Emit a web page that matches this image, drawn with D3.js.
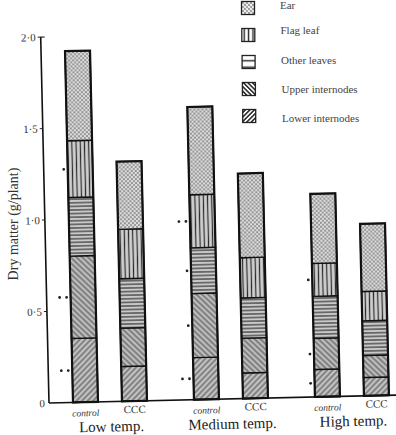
<!DOCTYPE html>
<html>
<head>
<meta charset="utf-8">
<script src="https://cdn.jsdelivr.net/npm/d3@7"></script>
<style>
  body { margin: 0; background: #fff; }
  svg { display: block; }
</style>
</head>
<body>
<script>
// stacked dry matter per plant, by plant part

// Data (g/plant)
const groups = ["Low temp.", "Medium temp.", "High temp."];
const treatments = ["control", "CCC"];
const parts = ["lower", "upper", "other", "flag", "ear"];   // bottom -> top
const partNames = ["Lower internodes", "Upper internodes", "Other leaves", "Flag leaf", "Ear"];

const lowerInternodes = [0.35, 0.19, 0.23, 0.14, 0.15, 0.10];
const upperInternodes = [0.45, 0.21, 0.35, 0.19, 0.17, 0.12];
const otherLeaves     = [0.32, 0.27, 0.25, 0.22, 0.23, 0.19];
const flagLeaf        = [0.31, 0.27, 0.29, 0.22, 0.18, 0.16];
const ear             = [0.49, 0.37, 0.48, 0.46, 0.38, 0.37];

const yTicks = [0, 0.5, 1.0, 1.5, 2.0];
const yTickLabels = ["0", "0·5", "1·0", "1·5", "2·0"];

// significance marks drawn beside the control bars: [group, part, count]
const sigMarks = [
    ["Low temp.", "flag", 1], ["Low temp.", "upper", 2], ["Low temp.", "lower", 2],
    ["Medium temp.", "flag", 2], ["Medium temp.", "other", 1],
    ["Medium temp.", "upper", 1], ["Medium temp.", "lower", 2],
    ["High temp.", "flag", 1], ["High temp.", "upper", 1], ["High temp.", "lower", 1]
];

// build rows for the stack
const rows = [];
groups.forEach((g, gi) => {
    treatments.forEach((t, ti) => {
        const i = gi * 2 + ti;
        rows.push({
            group: g, treat: t,
            lower: lowerInternodes[i], upper: upperInternodes[i],
            other: otherLeaves[i], flag: flagLeaf[i], ear: ear[i]
        });
    });
});

const width = 396;
const height = 435;
const x0 = 49;      // axis position
const yBase = 403;  // baseline

const svg = d3.select("body")
    .append("svg")
    .attr("width", width)
    .attr("height", height);

svg.append("rect").attr("width", width).attr("height", height).attr("fill", "#fff");

// ----- patterns
const defs = svg.append("defs");

function dotPattern(id, bg) {
    const p = defs.append("pattern").attr("id", id)
        .attr("patternUnits", "userSpaceOnUse").attr("width", 4).attr("height", 4);
    p.append("rect").attr("width", 4).attr("height", 4).attr("fill", bg);
    p.append("circle").attr("cx", 1).attr("cy", 1).attr("r", 0.8).attr("fill", "#3a3a3a");
    p.append("circle").attr("cx", 3).attr("cy", 3).attr("r", 0.8).attr("fill", "#4a4a4a");
}
function linePattern(id, size, angle, bg, stroke, sw) {
    const p = defs.append("pattern").attr("id", id)
        .attr("patternUnits", "userSpaceOnUse")
        .attr("width", size).attr("height", size)
        .attr("patternTransform", `rotate(${angle})`);
    p.append("rect").attr("width", size).attr("height", size).attr("fill", bg);
    p.append("line")
        .attr("x1", size / 2).attr("x2", size / 2)
        .attr("y1", 0).attr("y2", size)
        .attr("stroke", stroke).attr("stroke-width", sw);
}

dotPattern("p-ear", "#dcdcdc");
linePattern("p-flag", 4.2, 0, "#cecece", "#2a2a2a", 1.2);
linePattern("p-other", 3.6, 90, "#c9c9c9", "#2a2a2a", 1.1);
linePattern("p-upper", 4, -45, "#bdbdbd", "#454545", 1);
linePattern("p-lower", 4, 45, "#c2c2c2", "#454545", 1);

// legend versions (coarser / bolder)
dotPattern("l-ear", "#eee");
linePattern("l-flag", 4.4, 0, "#fff", "#222", 1.4);
linePattern("l-other", 6.4, 90, "#fff", "#222", 1.4);
linePattern("l-upper", 3.2, -45, "#fff", "#222", 1.5);
linePattern("l-lower", 3.2, 45, "#fff", "#222", 1.5);

// ----- scales
const xGroup = d3.scaleBand()
    .domain(groups)
    .range([49.5, 412.5]);

const xTreat = d3.scaleBand()
    .domain(treatments)
    .range([23.5, 97.5])
    .paddingInner(24 / 49);

const yScale = d3.scaleLinear()
    .domain([0, 2])
    .range([yBase, 37]);

const stack = d3.stack().keys(parts);
const series = stack(rows);

// whole plot is slightly tilted like the scan
const g = svg.append("g")
    .attr("transform", `rotate(-1.3, ${x0}, ${yBase})`);

const barX = d => xGroup(d.data.group) + xTreat(d.data.treat);

// stacked segments
series.forEach(s => {
    g.append("g")
        .selectAll("rect")
        .data(s)
        .join("rect")
        .attr("x", d => barX(d))
        .attr("y", d => yScale(d[1]))
        .attr("width", xTreat.bandwidth())
        .attr("height", d => yScale(d[0]) - yScale(d[1]))
        .attr("fill", `url(#p-${s.key})`)
        .attr("stroke", "#111")
        .attr("stroke-width", 1.4);
});

// heavy outline on each bar
g.append("g")
    .selectAll("rect")
    .data(rows)
    .join("rect")
    .attr("x", d => xGroup(d.group) + xTreat(d.treat))
    .attr("y", d => yScale(d.lower + d.upper + d.other + d.flag + d.ear))
    .attr("width", xTreat.bandwidth())
    .attr("height", d => yBase - yScale(d.lower + d.upper + d.other + d.flag + d.ear))
    .attr("fill", "none")
    .attr("stroke", "#111")
    .attr("stroke-width", 2.2);

// significance dots
sigMarks.forEach(([grp, part, n]) => {
    const row = rows.find(r => r.group === grp && r.treat === "control");
    const k = parts.indexOf(part);
    const seg = series[k].find(d => d.data === row);
    const yMid = yScale((seg[0] + seg[1]) / 2);
    const left = xGroup(grp) + xTreat("control");
    for (let i = 0; i < n; i++) {
        g.append("circle")
            .attr("cx", left - 4 - i * 7)
            .attr("cy", yMid)
            .attr("r", 1.4)
            .attr("fill", "#222");
    }
});

// axis line and baseline
g.append("line")
    .attr("x1", x0).attr("x2", x0)
    .attr("y1", yScale(0)).attr("y2", yScale(2))
    .attr("stroke", "#111").attr("stroke-width", 1.6);
g.append("line")
    .attr("x1", x0).attr("x2", 400)
    .attr("y1", yBase).attr("y2", yBase)
    .attr("stroke", "#111").attr("stroke-width", 1.6);

// ticks
const tickG = g.append("g");
tickG.selectAll("line")
    .data(yTicks.filter(v => v > 0))
    .join("line")
    .attr("x1", x0 - 3).attr("x2", x0)
    .attr("y1", d => yScale(d)).attr("y2", d => yScale(d))
    .attr("stroke", "#222").attr("stroke-width", 1);
g.append("line")
    .attr("x1", x0).attr("x2", x0 + 4)
    .attr("y1", yScale(2)).attr("y2", yScale(2))
    .attr("stroke", "#222").attr("stroke-width", 1.2);

tickG.selectAll("text")
    .data(yTicks)
    .join("text")
    .attr("x", (d, i) => i === 0 ? x0 - 4 : x0 - 5)
    .attr("y", d => yScale(d) + 4)
    .attr("text-anchor", "end")
    .attr("font-family", "Liberation Serif, serif")
    .attr("font-size", 11)
    .attr("fill", "#333")
    .text((d, i) => yTickLabels[i]);

// bar labels
g.append("g")
    .selectAll("text")
    .data(rows)
    .join("text")
    .attr("x", d => xGroup(d.group) + xTreat(d.treat) + xTreat.bandwidth() / 2)
    .attr("y", d => d.treat === "control" ? 417 : 415)
    .attr("text-anchor", "middle")
    .attr("font-family", "Liberation Serif, serif")
    .attr("font-style", d => d.treat === "control" ? "italic" : "normal")
    .attr("font-size", d => d.treat === "control" ? 9.5 : 11)
    .attr("fill", "#333")
    .text(d => d.treat);

// group labels
g.append("g")
    .selectAll("text")
    .data(groups)
    .join("text")
    .attr("x", d => xGroup(d) + xGroup.bandwidth() / 2 + 1)
    .attr("y", 433)
    .attr("text-anchor", "middle")
    .attr("font-family", "Liberation Serif, serif")
    .attr("font-size", 15)
    .attr("fill", "#222")
    .text(d => d);

// y label
svg.append("text")
    .attr("transform", "translate(18,224) rotate(-90)")
    .attr("text-anchor", "middle")
    .attr("font-family", "Liberation Serif, serif")
    .attr("font-size", 14)
    .attr("fill", "#333")
    .text("Dry matter (g/plant)");

// legend, top to bottom
const legendKeys = parts.slice().reverse();
const legendNames = partNames.slice().reverse();
const legend = svg.append("g");
legendKeys.forEach((k, i) => {
    legend.append("rect")
        .attr("x", 241.5 + i * 0.3)
        .attr("y", 1.5 + i * 27)
        .attr("width", 13)
        .attr("height", 13)
        .attr("fill", `url(#l-${k})`)
        .attr("stroke", "#222")
        .attr("stroke-width", 1.3);
    legend.append("text")
        .attr("x", 280 + i * 0.5)
        .attr("y", i === 0 ? 9 : 5 + i * 29.3)
        .attr("font-family", "Liberation Serif, serif")
        .attr("font-size", 11)
        .attr("fill", "#444")
        .text(legendNames[i]);
});
</script>
</body>
</html>
